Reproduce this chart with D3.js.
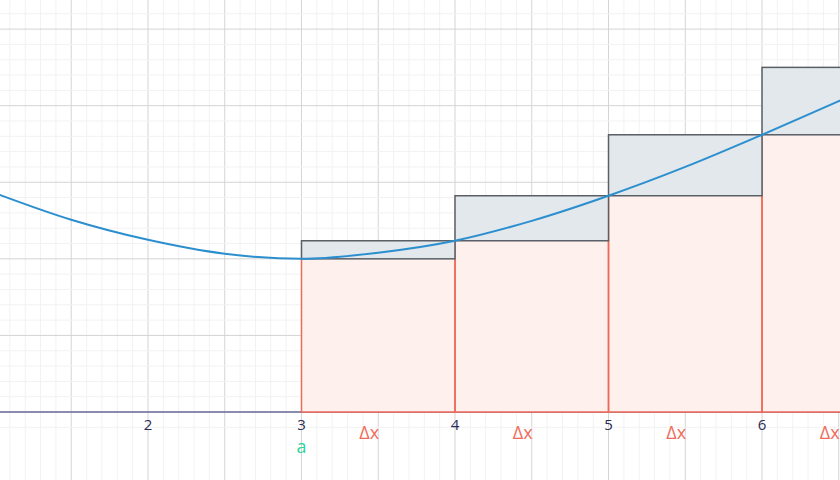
<!DOCTYPE html>
<html><head><meta charset="utf-8">
<script src="https://cdn.jsdelivr.net/npm/d3@7"></script>
<style>body{margin:0;background:#fff}svg{display:block}</style>
</head><body>
<svg id="chart" width="840" height="480"></svg>
<script>
// curve readings f(x)
const curveX = [1.0, 1.5, 2.0, 2.5, 3.0, 3.5, 4.0, 4.5, 5.0, 5.5, 6.0, 6.5, 7.0];
const curveY = [1.43, 1.255, 1.124, 1.033, 1.0, 1.04, 1.118, 1.248, 1.412, 1.60, 1.81, 2.03, 2.25];
// partition of [a, b]
const stepX = [3, 4, 5, 6, 7];
const tickLabels = [2, 3, 4, 5, 6];

const width = 840, height = 480;
const x = d3.scaleLinear().domain([1.036, 6.508]).range([0, width]);
const y = d3.scaleLinear().domain([0, 2.69]).range([412, 0]);
const f = v => curveY[curveX.indexOf(v)];

const svg = d3.select('#chart');

// grid
const minor = d3.range(10, 70).map(d => d / 10);
const minorY = d3.range(-1, 30).map(d => d / 10);
svg.append('g').selectAll('line').data(minor).enter().append('line')
  .attr('x1', d => x(d)).attr('x2', d => x(d)).attr('y1', 0).attr('y2', height)
  .attr('stroke', d => Math.round(d * 10) % 5 === 0 ? '#d4d4d4' : '#f2f2f2').attr('stroke-width', 1);
svg.append('g').selectAll('line').data(minorY).enter().append('line')
  .attr('y1', d => y(d)).attr('y2', d => y(d)).attr('x1', 0).attr('x2', width)
  .attr('stroke', d => Math.round(d * 10) % 5 === 0 ? '#d4d4d4' : '#f2f2f2').attr('stroke-width', 1);

// x axis
svg.append('line').attr('x1', 0).attr('x2', width).attr('y1', y(0)).attr('y2', y(0))
  .attr('stroke', '#6b6b9a').attr('stroke-width', 1.5);

const steps = stepX.slice(0, -1).map((a, i) => ({a, b: stepX[i + 1]}));

// lower rectangles
svg.append('g').selectAll('rect').data(steps).enter().append('rect')
  .attr('x', d => x(d.a)).attr('width', d => x(d.b) - x(d.a))
  .attr('y', d => y(f(d.a))).attr('height', d => y(0) - y(f(d.a)))
  .attr('fill', '#fdf0ed').attr('stroke', 'none');
svg.append('g').selectAll('path').data(steps).enter().append('path')
  .attr('d', d => `M${x(d.a)},${y(f(d.a))}V${y(0)}H${x(d.b)}V${y(f(d.a))}`)
  .attr('fill', 'none').attr('stroke', '#ee6a58').attr('stroke-width', 1.5);

// upper bands
svg.append('g').selectAll('rect').data(steps).enter().append('rect')
  .attr('x', d => x(d.a)).attr('width', d => x(d.b) - x(d.a))
  .attr('y', d => y(f(d.b))).attr('height', d => y(f(d.a)) - y(f(d.b)))
  .attr('fill', '#e2e8ec').attr('stroke', '#5a5f66').attr('stroke-width', 1.5);

// curve
svg.append('path').datum(curveX.map((v, i) => [v, curveY[i]]))
  .attr('d', d3.line().x(d => x(d[0])).y(d => y(d[1])).curve(d3.curveMonotoneX))
  .attr('fill', 'none').attr('stroke', '#2b8fcf').attr('stroke-width', 2);

// tick labels
svg.append('g').selectAll('text').data(tickLabels).enter().append('text')
  .attr('x', d => x(d)).attr('y', 430).attr('text-anchor', 'middle')
  .attr('font-family', 'Open Sans, sans-serif').attr('font-size', 15).attr('fill', '#2a2c55')
  .text(d => d);

svg.append('text').attr('x', x(3)).attr('y', 453).attr('text-anchor', 'middle')
  .attr('font-family', 'Open Sans, sans-serif').attr('font-size', 18).attr('fill', '#2fd39c').text('a');

svg.append('g').selectAll('text').data(steps).enter().append('text')
  .attr('x', d => x((d.a + d.b) / 2) - 9).attr('y', 439).attr('text-anchor', 'middle')
  .attr('font-family', 'Open Sans, sans-serif').attr('font-size', 18).attr('fill', '#ef6d5b')
  .text('Δx');
</script>
</body></html>
